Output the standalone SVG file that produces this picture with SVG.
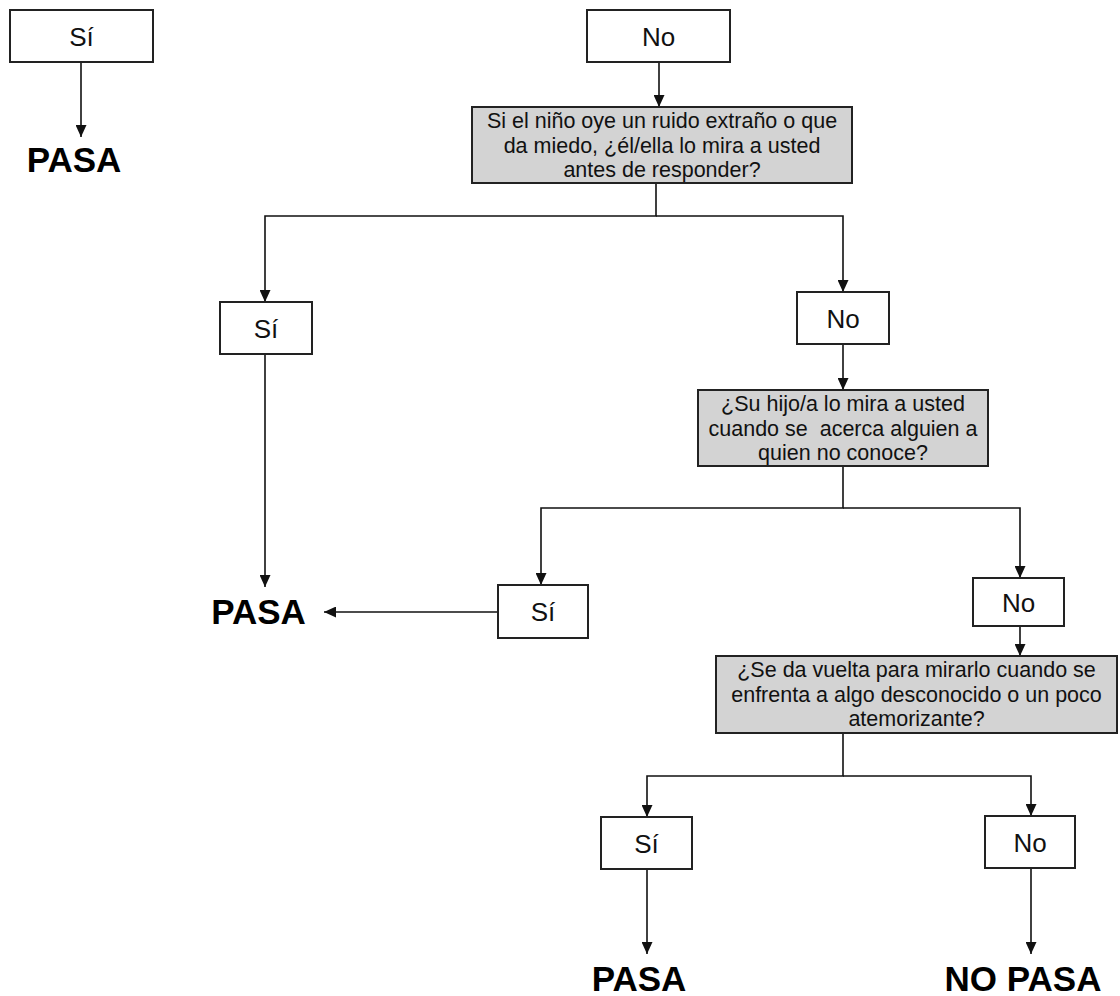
<svg xmlns="http://www.w3.org/2000/svg" width="1120" height="996" viewBox="0 0 1120 996">
<style>
.box{fill:#fff;stroke:#222;stroke-width:2}
.q{fill:#d3d3d3;stroke:#222;stroke-width:2}
.lbl{font-family:"Liberation Sans",Arial,sans-serif;font-size:26px;fill:#111;text-anchor:middle}
.qt{font-family:"Liberation Sans",Arial,sans-serif;font-size:21.5px;fill:#111;text-anchor:middle;white-space:pre}
.res{font-family:"Liberation Sans",Arial,sans-serif;font-size:35px;font-weight:bold;fill:#000;text-anchor:middle}
.c{fill:none;stroke:#111;stroke-width:1.6}
</style>
<defs>
<marker id="ah" markerUnits="userSpaceOnUse" markerWidth="12" markerHeight="11" refX="12" refY="5.5" orient="auto">
<path d="M0,0 L12,5.5 L0,11 z" fill="#111"/>
</marker>
</defs>
<g id="connectors">
<path class="c" d="M81,62 V137" marker-end="url(#ah)"/>
<path class="c" d="M659,62 V107" marker-end="url(#ah)"/>
<path class="c" d="M656,183 V216 H265 V302" marker-end="url(#ah)"/>
<path class="c" d="M656,216 H843 V292" marker-end="url(#ah)"/>
<path class="c" d="M265,354 V587" marker-end="url(#ah)"/>
<path class="c" d="M843,344 V390" marker-end="url(#ah)"/>
<path class="c" d="M843,466 V508 H541 V585" marker-end="url(#ah)"/>
<path class="c" d="M843,508 H1020 V578" marker-end="url(#ah)"/>
<path class="c" d="M498,612 H324" marker-end="url(#ah)"/>
<path class="c" d="M1020,626 V656" marker-end="url(#ah)"/>
<path class="c" d="M843,733 V776 H647 V817" marker-end="url(#ah)"/>
<path class="c" d="M843,776 H1031 V816" marker-end="url(#ah)"/>
<path class="c" d="M647,869 V954" marker-end="url(#ah)"/>
<path class="c" d="M1031,868 V954" marker-end="url(#ah)"/>
</g>
<g id="si0"><rect class="box" x="10" y="10" width="143" height="52"/><text class="lbl" x="81.5" y="45.5">Sí</text></g>
<g id="pasa0"><text class="res" x="74" y="172">PASA</text></g>
<g id="no0"><rect class="box" x="587" y="10" width="143" height="52"/><text class="lbl" x="658.5" y="45.5">No</text></g>
<g id="q1"><rect class="q" x="472" y="107" width="380" height="76"/>
<text class="qt" x="662" y="128">Si el niño oye un ruido extraño o que</text>
<text class="qt" x="662" y="152.5">da miedo, ¿él/ella lo mira a usted</text>
<text class="qt" x="662" y="177">antes de responder?</text></g>
<g id="si1"><rect class="box" x="220" y="302" width="92" height="52"/><text class="lbl" x="266" y="337.5">Sí</text></g>
<g id="no1"><rect class="box" x="797" y="292" width="92" height="52"/><text class="lbl" x="843" y="327.5">No</text></g>
<g id="q2"><rect class="q" x="698" y="390" width="290" height="76"/>
<text class="qt" x="843" y="411">¿Su hijo/a lo mira a usted</text>
<text class="qt" x="843" y="435.5" xml:space="preserve">cuando se  acerca alguien a</text>
<text class="qt" x="843" y="460">quien no conoce?</text></g>
<g id="pasa1"><text class="res" x="258.5" y="624">PASA</text></g>
<g id="si2"><rect class="box" x="498" y="585" width="90" height="53"/><text class="lbl" x="543" y="621">Sí</text></g>
<g id="no2"><rect class="box" x="973" y="578" width="91" height="48"/><text class="lbl" x="1018.5" y="611.5">No</text></g>
<g id="q3"><rect class="q" x="716" y="656" width="401" height="77"/>
<text class="qt" x="916.5" y="677">¿Se da vuelta para mirarlo cuando se</text>
<text class="qt" x="916.5" y="701.5">enfrenta a algo desconocido o un poco</text>
<text class="qt" x="916.5" y="726">atemorizante?</text></g>
<g id="si3"><rect class="box" x="601" y="817" width="91" height="52"/><text class="lbl" x="646.5" y="852.5">Sí</text></g>
<g id="no3"><rect class="box" x="985" y="816" width="90" height="52"/><text class="lbl" x="1030" y="851.5">No</text></g>
<g id="pasa2"><text class="res" x="639" y="991">PASA</text></g>
<g id="nopasa"><text class="res" x="1023" y="991">NO PASA</text></g>
</svg>
